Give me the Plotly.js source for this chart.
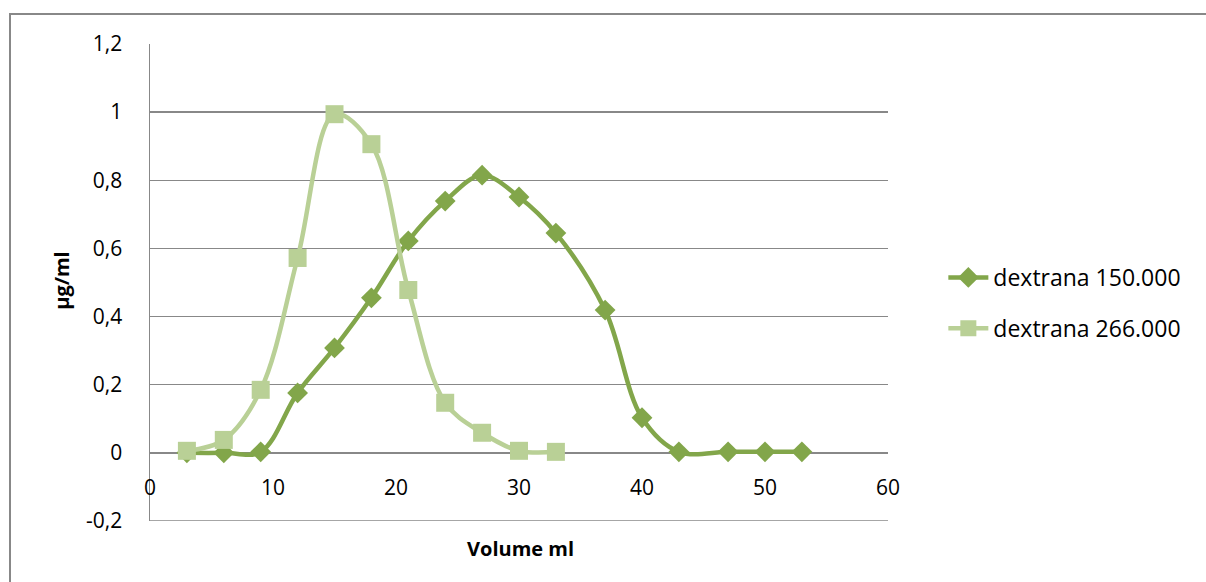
<!DOCTYPE html>
<html><head><meta charset="utf-8">
<script src="https://cdn.plot.ly/plotly-3.0.1.min.js"></script>
<style>
html,body{margin:0;padding:0;background:#fff;overflow:hidden;}
#frame{position:absolute;left:9px;top:13px;width:1400px;height:800px;border:2px solid #888;box-sizing:border-box;}
#chart{position:absolute;left:0;top:0;width:1206px;height:582px;}
</style></head>
<body>
<div id="frame"></div>
<div id="chart"></div>
<script>
const seriesNames = ['dextrana 150.000', 'dextrana 266.000'];
const xDex150 = [3, 6, 9, 12, 15, 18, 21, 24, 27, 30, 33, 37, 40, 43, 47, 50, 53];
const yDex150 = [0.0, 0.0, 0.003, 0.176, 0.308, 0.455, 0.622, 0.739, 0.815, 0.751, 0.645, 0.419, 0.103, 0.003, 0.003, 0.003, 0.003];
const xDex266 = [3, 6, 9, 12, 15, 18, 21, 24, 27, 30, 33];
const yDex266 = [0.006, 0.038, 0.185, 0.572, 0.994, 0.906, 0.478, 0.147, 0.059, 0.006, 0.003];
const yTickVals = [-0.2, 0, 0.2, 0.4, 0.6, 0.8, 1, 1.2];
const yTickText = ['-0,2', '0', '0,2', '0,4', '0,6', '0,8', '1', '1,2'];
const xTickVals = [0, 10, 20, 30, 40, 50, 60];
const xTickText = ['0', '10', '20', '30', '40', '50', '60'];
const xTitle = 'Volume ml';
const yTitle = 'µg/ml';

const FONT = 'Open Sans, Liberation Sans, sans-serif';
const FS = 21;
const traces = [
  {x: xDex150, y: yDex150, name: seriesNames[0], legendgroup: 'a', type: 'scatter', mode: 'lines+markers',
   line: {color: '#82A64A', width: 4.5, shape: 'spline', smoothing: 1},
   marker: {symbol: 'diamond', size: 16, color: '#82A64A'}},
  {x: xDex266, y: yDex266, name: seriesNames[1], legendgroup: 'b', type: 'scatter', mode: 'lines+markers',
   line: {color: '#B9D096', width: 4.5, shape: 'spline', smoothing: 1},
   marker: {symbol: 'square', size: 18, color: '#B9D096'}}
];
const layout = {
  width: 1206, height: 582,
  margin: {l: 150, r: 318, t: 44, b: 61},
  paper_bgcolor: 'rgba(0,0,0,0)', plot_bgcolor: 'rgba(0,0,0,0)',
  font: {family: FONT, size: FS, color: '#000'},
  showlegend: true,
  legend: {x: 1.075, y: 0.457, xanchor: 'left', yanchor: 'middle', font: {family: FONT, size: 23, color: '#000'},
           tracegroupgap: 18, itemwidth: 40},
  xaxis: {range: [0, 60], tickvals: xTickVals, ticktext: xTickText, showgrid: false,
          zeroline: false, showline: false, anchor: 'free', position: 0.142857,
          ticks: '', ticklabelstandoff: 20, fixedrange: true},
  yaxis: {range: [-0.2, 1.2], tickvals: yTickVals, ticktext: yTickText, showgrid: true,
          gridcolor: '#888', gridwidth: 1.5, zeroline: false, showline: true, linecolor: '#888', linewidth: 1.5,
          ticks: '', ticklabelstandoff: 22, fixedrange: true},
  shapes: [
    {type: 'line', xref: 'paper', yref: 'y', x0: 0, x1: 1, y0: yTickVals[0], y1: yTickVals[0],
     line: {color: '#888', width: 1.5}, layer: 'below'}
  ],
  annotations: [
    {text: '<b>' + xTitle + '</b>', xref: 'paper', yref: 'paper', x: 0.502, y: -0.025, xanchor: 'center', yanchor: 'top',
     showarrow: false, font: {family: FONT, size: FS - 1, color: '#000'}},
    {text: '<b>' + yTitle + '</b>', xref: 'paper', yref: 'paper', x: -0.121, y: 0.505, xanchor: 'center', yanchor: 'middle',
     textangle: -90, showarrow: false, font: {family: FONT, size: FS - 1, color: '#000'}}
  ]
};
Plotly.newPlot('chart', traces, layout, {displayModeBar: false, staticPlot: true});
</script>
</body></html>
